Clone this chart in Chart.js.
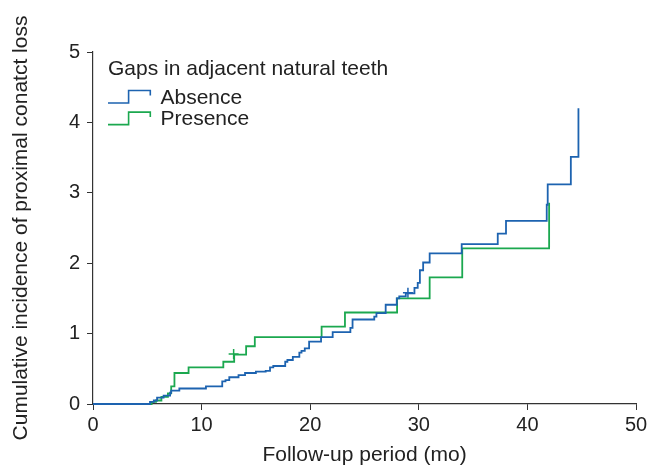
<!DOCTYPE html>
<html>
<head>
<meta charset="utf-8">
<script src="https://cdn.jsdelivr.net/npm/chart.js@4.4.1/dist/chart.umd.min.js"></script>
<style>
  html, body { margin: 0; padding: 0; background: #fff; }
  canvas { display: block; }
</style>
</head>
<body>
<canvas id="kmChart" width="651" height="469"></canvas>
<script>
// Data (months, cumulative incidence)
const absenceTime = [0, 5.25, 5.6, 5.9, 6.5, 7.1, 7.2, 7.95, 10.4, 11.9, 12.2, 12.55, 13.4, 14.0, 15.0, 15.9, 16.3, 16.6,
  17.7, 17.9, 18.4, 19.0, 19.2, 19.5, 19.9, 21.0, 22.07, 23.7, 23.9, 25.9, 26.1, 26.95, 27.97, 28.2, 28.8,
  29.6, 29.9, 30.1, 30.4, 31.0, 33.95, 37.27, 38.03, 41.78, 41.87, 44.0, 44.7];
const absenceValue = [0, 0.03, 0.05, 0.09, 0.12, 0.16, 0.19, 0.22, 0.25, 0.32, 0.34, 0.38, 0.41, 0.44, 0.46, 0.47, 0.52, 0.54,
  0.60, 0.625, 0.67, 0.73, 0.755, 0.79, 0.885, 0.95, 1.02, 1.08, 1.2, 1.24, 1.29, 1.41, 1.5, 1.53, 1.57,
  1.65, 1.72, 1.9, 2.01, 2.14, 2.27, 2.42, 2.6, 2.83, 3.12, 3.51, 4.2];

const presenceTime = [0, 5.4, 5.8, 6.3, 6.9, 7.2, 7.5, 8.8, 12.0, 13.0, 14.1, 14.9, 21.05, 23.2, 28.0, 31.0, 34.0, 42.0];
const presenceValue = [0, 0.03, 0.05, 0.1, 0.15, 0.25, 0.44, 0.52, 0.6, 0.7, 0.82, 0.95, 1.1, 1.3, 1.5, 1.8, 2.21, 2.86];

// Censored observations (+ marks)
const absenceCensorTime = [29.0];
const absenceCensorValue = [1.58];
const presenceCensorTime = [12.95];
const presenceCensorValue = [0.71];

const groupLabels = ['Absence', 'Presence'];
const legendTitle = 'Gaps in adjacent natural teeth';
const xTicks = [0, 10, 20, 30, 40, 50];
const yTicks = [0, 1, 2, 3, 4, 5];

const BLUE = '#1d63b0';
const GREEN = '#1ba84f';
const AXIS = '#333333';
const TEXT = '#222222';
const FONT = '"Liberation Sans", Arial, sans-serif';

function toPoints(xs, ys) {
    return xs.map((x, i) => ({ x: x, y: ys[i] }));
}

// Legend with step-shaped symbols, drawn inside the plot
const stepLegend = {
    id: 'stepLegend',
    afterDraw(chart) {
        const ctx = chart.ctx;
        const area = chart.chartArea;
        const left = area.left + 15;
        ctx.save();
        ctx.fillStyle = TEXT;
        ctx.font = '21px ' + FONT;
        ctx.textBaseline = 'alphabetic';
        ctx.textAlign = 'left';
        ctx.fillText(legendTitle, left, area.top + 22.5);

        const colors = [BLUE, GREEN];
        groupLabels.forEach((label, i) => {
            const base = area.top + 51 + i * 21.6;
            ctx.strokeStyle = colors[i];
            ctx.lineWidth = 1.6;
            ctx.beginPath();
            ctx.moveTo(left, base);
            ctx.lineTo(left + 20.6, base);
            ctx.lineTo(left + 20.6, base - 12.5);
            ctx.lineTo(left + 42.3, base - 12.5);
            ctx.lineTo(left + 42.3, base - 7.5);
            ctx.stroke();
            ctx.fillText(label, left + 52.5, base + 0.8);
        });
        ctx.restore();
    }
};

const ctx = document.getElementById('kmChart').getContext('2d');

new Chart(ctx, {
    type: 'line',
    data: {
        datasets: [
            {
                label: groupLabels[0],
                data: toPoints(absenceTime, absenceValue),
                borderColor: BLUE,
                borderWidth: 1.8,
                stepped: 'before',
                pointRadius: 0,
                fill: false,
                clip: false
            },
            {
                label: groupLabels[1],
                data: toPoints(presenceTime, presenceValue),
                borderColor: GREEN,
                borderWidth: 1.8,
                stepped: 'before',
                pointRadius: 0,
                fill: false,
                clip: false
            },
            {
                label: 'absence censored',
                data: toPoints(absenceCensorTime, absenceCensorValue),
                showLine: false,
                pointStyle: 'cross',
                pointRadius: 5,
                pointBorderColor: BLUE,
                pointBorderWidth: 1.5
            },
            {
                label: 'presence censored',
                data: toPoints(presenceCensorTime, presenceCensorValue),
                showLine: false,
                pointStyle: 'cross',
                pointRadius: 5,
                pointBorderColor: GREEN,
                pointBorderWidth: 1.5
            }
        ]
    },
    options: {
        responsive: false,
        animation: false,
        devicePixelRatio: 1,
        layout: { padding: { top: 52, right: 15, left: 0, bottom: 0 } },
        plugins: {
            legend: { display: false },
            tooltip: { enabled: false }
        },
        scales: {
            x: {
                type: 'linear',
                min: 0,
                max: 50,
                afterBuildTicks: scale => { scale.ticks = xTicks.map(v => ({ value: v })); },
                afterFit: scale => { scale.height = 65; },
                ticks: { color: TEXT, font: { family: FONT, size: 20 }, padding: 3, maxRotation: 0 },
                grid: { drawOnChartArea: false, drawTicks: true, tickLength: 6, color: AXIS },
                border: { display: true, color: AXIS, width: 1.2 },
                title: {
                    display: true,
                    text: 'Follow-up period (mo)',
                    color: TEXT,
                    font: { family: FONT, size: 21 },
                    padding: { top: 0, bottom: 1 }
                }
            },
            y: {
                type: 'linear',
                min: 0,
                max: 5,
                afterBuildTicks: scale => { scale.ticks = yTicks.map(v => ({ value: v })); },
                afterFit: scale => { scale.width = 93; },
                ticks: { color: TEXT, font: { family: FONT, size: 20 }, padding: 7 },
                grid: { drawOnChartArea: false, drawTicks: true, tickLength: 6, color: AXIS },
                border: { display: true, color: AXIS, width: 1.2 },
                title: {
                    display: true,
                    text: 'Cumulative incidence of proximal conatct loss',
                    color: TEXT,
                    font: { family: FONT, size: 21 },
                    padding: { top: 9, bottom: 0 }
                }
            }
        }
    },
    plugins: [stepLegend]
});
</script>
</body>
</html>
